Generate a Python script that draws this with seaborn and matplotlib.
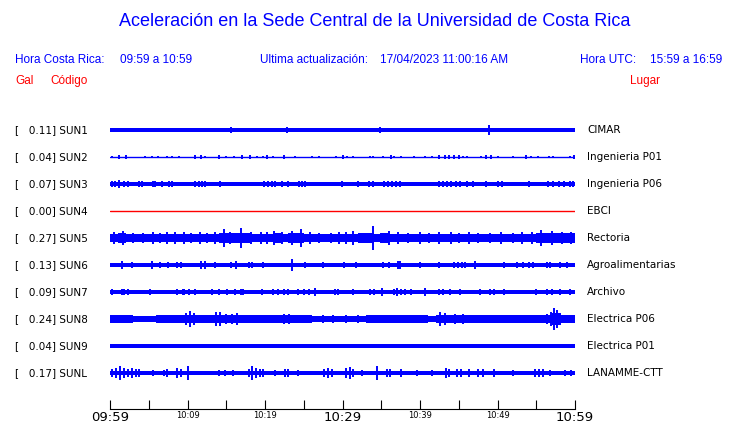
import matplotlib
matplotlib.use("Agg")
import matplotlib.pyplot as plt
import numpy as np
import seaborn as sns

BLUE = "#0000ff"
RED = "#ff0000"

# stations, places and peak acceleration (Gal)
stations = ["SUN1", "SUN2", "SUN3", "SUN4", "SUN5", "SUN6", "SUN7", "SUN8", "SUN9", "SUNL"]
places = ["CIMAR", "Ingenieria P01", "Ingenieria P06", "EBCI", "Rectoria",
          "Agroalimentarias", "Archivo", "Electrica P06", "Electrica P01", "LANAMME-CTT"]
peaks = [0.11, 0.04, 0.07, 0.00, 0.27, 0.13, 0.09, 0.24, 0.04, 0.17]

# background noise half-width (Gal); None -> per-minute envelope below
base_width = [0.036, 0.01, 0.045, 0.0, None, 0.045, 0.05, None, 0.04, 0.05]

# per-minute envelope (half-width, Gal) for the noisier stations
env_sun5 = [0.1, 0.11, 0.1, 0.095, 0.095, 0.1, 0.095, 0.095, 0.1, 0.095,
            0.095, 0.095, 0.095, 0.1, 0.11, 0.11, 0.12, 0.11, 0.1, 0.1,
            0.1, 0.11, 0.1, 0.11, 0.11, 0.1, 0.095, 0.095, 0.1, 0.095,
            0.095, 0.1, 0.11, 0.11, 0.1, 0.11, 0.1, 0.1, 0.095, 0.095,
            0.1, 0.095, 0.1, 0.1, 0.1, 0.1, 0.095, 0.095, 0.095, 0.1,
            0.095, 0.095, 0.1, 0.095, 0.1, 0.11, 0.11, 0.12, 0.12, 0.12]
env_sun8 = [0.08, 0.08, 0.08, 0.07, 0.07, 0.07, 0.085, 0.085, 0.085, 0.085,
            0.1, 0.09, 0.09, 0.09, 0.1, 0.095, 0.095, 0.08, 0.09, 0.09,
            0.09, 0.09, 0.095, 0.095, 0.085, 0.085, 0.07, 0.075, 0.075, 0.075,
            0.075, 0.075, 0.075, 0.08, 0.08, 0.08, 0.085, 0.085, 0.085, 0.085,
            0.085, 0.075, 0.1, 0.1, 0.095, 0.095, 0.095, 0.095, 0.09, 0.09,
            0.09, 0.09, 0.09, 0.08, 0.08, 0.08, 0.1, 0.14, 0.1, 0.09]

# spikes: (minute after 09:59, half amplitude in Gal)
spikes_sun1 = [(0.5, 0.045), (1.2, 0.045), (4.5, 0.05), (5.5, 0.045), (6.0, 0.055), (7.2, 0.045),
               (9.0, 0.04), (11.8, 0.045), (13.0, 0.045), (14.5, 0.05), (15.6, 0.075), (16.5, 0.045),
               (17.4, 0.045), (19.6, 0.045), (21.0, 0.045), (22.9, 0.068), (23.8, 0.05), (25.0, 0.045),
               (26.2, 0.045), (28.8, 0.045), (30.5, 0.045), (31.4, 0.04), (34.8, 0.068), (37.0, 0.045),
               (38.5, 0.05), (41.5, 0.045), (44.5, 0.045), (47.0, 0.045), (48.9, 0.11), (49.6, 0.055),
               (50.5, 0.045), (53.0, 0.05), (54.6, 0.045), (57.0, 0.05), (58.5, 0.05), (59.5, 0.05)]
spikes_sun2 = [(0.3, 0.03), (1.2, 0.045), (2.1, 0.035), (4.5, 0.025), (5.4, 0.025), (6.2, 0.03),
               (7.3, 0.025), (8.0, 0.025), (8.9, 0.025), (11.0, 0.035), (11.8, 0.035), (12.2, 0.03),
               (14.0, 0.035), (15.0, 0.025), (16.0, 0.03), (17.0, 0.035), (18.0, 0.035), (19.0, 0.025),
               (19.8, 0.03), (20.3, 0.035), (21.0, 0.03), (22.5, 0.035), (23.9, 0.03), (26.0, 0.025),
               (27.0, 0.025), (29.2, 0.03), (30.1, 0.035), (30.6, 0.03), (31.4, 0.03), (33.5, 0.03),
               (33.9, 0.03), (35.2, 0.03), (36.2, 0.035), (36.7, 0.03), (37.6, 0.025), (39.2, 0.025),
               (40.6, 0.025), (41.6, 0.03), (42.4, 0.035), (43.2, 0.035), (43.8, 0.035), (44.4, 0.04),
               (45.0, 0.035), (45.5, 0.03), (46.0, 0.03), (47.9, 0.03), (48.5, 0.035), (49.2, 0.035),
               (50.0, 0.03), (52.0, 0.025), (53.7, 0.035), (54.3, 0.03), (55.2, 0.03), (56.6, 0.03),
               (57.1, 0.03), (59.4, 0.03), (59.9, 0.035)]
spikes_sun3 = [(0.2, 0.06), (0.6, 0.065), (1.2, 0.08), (1.8, 0.065), (2.3, 0.06), (3.8, 0.065),
               (4.1, 0.065), (5.5, 0.065), (5.8, 0.06), (6.7, 0.06), (7.6, 0.065), (8.0, 0.06),
               (9.0, 0.055), (11.0, 0.065), (11.5, 0.07), (11.9, 0.075), (12.3, 0.065), (14.2, 0.06),
               (16.3, 0.055), (17.2, 0.055), (18.3, 0.055), (19.0, 0.055), (19.9, 0.065), (20.4, 0.065),
               (20.9, 0.065), (21.3, 0.06), (22.2, 0.065), (23.0, 0.06), (24.4, 0.065), (24.8, 0.06),
               (25.2, 0.065), (28.2, 0.055), (29.9, 0.06), (32.0, 0.06), (33.4, 0.065), (33.9, 0.065),
               (35.4, 0.065), (35.9, 0.065), (36.4, 0.065), (36.9, 0.065), (37.4, 0.06), (41.0, 0.055),
               (42.5, 0.065), (43.0, 0.07), (43.5, 0.065), (44.0, 0.06), (44.6, 0.065), (45.2, 0.06),
               (46.1, 0.065), (46.8, 0.065), (47.5, 0.055), (48.5, 0.06), (50.0, 0.065), (50.6, 0.06),
               (52.9, 0.055), (54.1, 0.06), (54.6, 0.055), (56.5, 0.065), (57.2, 0.065), (57.9, 0.06),
               (58.6, 0.065), (59.3, 0.065), (59.8, 0.06)]
spikes_sun4 = []
spikes_sun5 = [(0.5, 0.13), (1.7, 0.16), (3.0, 0.12), (4.2, 0.12), (5.5, 0.13), (6.5, 0.12),
               (7.4, 0.13), (8.4, 0.14), (9.5, 0.13), (10.5, 0.12), (11.6, 0.13), (12.5, 0.12),
               (13.5, 0.13), (14.7, 0.2), (15.5, 0.14), (16.9, 0.23), (18.2, 0.14), (19.5, 0.13),
               (20.3, 0.14), (21.2, 0.17), (22.2, 0.13), (23.5, 0.15), (24.7, 0.2), (25.8, 0.13),
               (27.0, 0.12), (28.5, 0.12), (29.6, 0.14), (30.5, 0.13), (31.4, 0.15), (32.3, 0.12),
               (33.9, 0.27), (35.0, 0.12), (36.0, 0.15), (37.2, 0.13), (38.5, 0.12), (40.0, 0.13),
               (41.2, 0.12), (42.5, 0.13), (44.0, 0.14), (45.0, 0.12), (46.3, 0.13), (47.5, 0.12),
               (49.0, 0.12), (50.5, 0.13), (52.0, 0.12), (53.2, 0.13), (54.5, 0.14), (55.6, 0.18),
               (57.0, 0.16), (58.3, 0.13), (59.5, 0.13)]
spikes_sun6 = [(1.5, 0.09), (2.9, 0.06), (5.4, 0.1), (6.5, 0.06), (7.5, 0.06), (8.7, 0.07),
               (9.2, 0.065), (11.8, 0.09), (12.2, 0.1), (13.5, 0.06), (15.6, 0.06), (16.3, 0.08),
               (17.9, 0.07), (18.3, 0.065), (19.8, 0.06), (23.5, 0.135), (25.1, 0.06), (27.5, 0.06),
               (30.2, 0.06), (31.8, 0.06), (35.2, 0.06), (36.0, 0.06), (37.2, 0.08), (37.4, 0.085),
               (40.0, 0.06), (42.4, 0.06), (44.4, 0.065), (44.9, 0.07), (45.4, 0.065), (45.8, 0.06),
               (47.1, 0.08), (50.9, 0.06), (52.5, 0.06), (53.3, 0.06), (54.0, 0.06), (54.6, 0.06),
               (56.4, 0.07), (56.8, 0.065), (58.1, 0.06), (59.0, 0.06)]
spikes_sun7 = [(0.2, 0.065), (1.5, 0.07), (1.8, 0.07), (2.3, 0.065), (5.2, 0.065), (8.7, 0.065),
               (9.4, 0.07), (9.6, 0.07), (10.2, 0.065), (11.0, 0.065), (13.2, 0.065), (14.0, 0.065),
               (15.1, 0.065), (16.1, 0.065), (16.9, 0.065), (17.2, 0.065), (19.6, 0.065), (21.0, 0.065),
               (21.7, 0.065), (22.4, 0.065), (23.0, 0.065), (24.3, 0.065), (25.0, 0.065), (25.7, 0.065),
               (26.5, 0.09), (29.0, 0.065), (29.4, 0.065), (31.4, 0.065), (33.5, 0.07), (34.0, 0.07),
               (35.1, 0.085), (36.6, 0.07), (37.0, 0.08), (37.5, 0.075), (38.0, 0.07), (38.9, 0.065),
               (40.7, 0.09), (42.4, 0.065), (43.0, 0.065), (43.9, 0.065), (45.2, 0.065), (47.7, 0.065),
               (49.0, 0.065), (49.5, 0.065), (50.9, 0.065), (55.0, 0.065), (56.4, 0.07), (57.0, 0.07),
               (58.1, 0.065), (59.4, 0.065)]
spikes_sun8 = [(0.3, 0.09), (1.2, 0.09), (2.0, 0.08), (2.6, 0.09), (6.0, 0.09), (7.2, 0.09),
               (8.3, 0.09), (9.0, 0.085), (9.8, 0.14), (10.3, 0.18), (10.8, 0.14), (12.0, 0.1),
               (12.8, 0.1), (13.7, 0.15), (14.2, 0.16), (15.0, 0.11), (15.8, 0.12), (16.4, 0.14),
               (18.5, 0.1), (19.5, 0.1), (20.5, 0.1), (22.4, 0.11), (23.1, 0.12), (24.6, 0.1),
               (27.5, 0.08), (28.8, 0.08), (30.4, 0.08), (32.0, 0.08), (33.5, 0.09), (35.0, 0.085),
               (37.5, 0.09), (39.5, 0.09), (42.6, 0.15), (43.2, 0.13), (44.5, 0.11), (45.6, 0.11),
               (46.8, 0.1), (48.7, 0.1), (50.2, 0.1), (51.6, 0.09), (53.5, 0.09), (55.0, 0.085),
               (56.4, 0.12), (56.9, 0.17), (57.3, 0.24), (57.7, 0.2), (58.1, 0.14), (59.0, 0.09)]
spikes_sun9 = [(0.5, 0.045), (5.5, 0.045), (12.5, 0.045), (18.0, 0.045), (25.5, 0.045), (33.5, 0.05),
               (38.0, 0.045), (44.0, 0.05), (50.0, 0.045), (57.0, 0.045)]
spikes_sunl = [(0.3, 0.1), (0.8, 0.11), (1.3, 0.15), (1.8, 0.11), (2.3, 0.1), (2.8, 0.12),
               (3.3, 0.1), (3.8, 0.08), (5.5, 0.07), (7.0, 0.075), (7.4, 0.08), (8.7, 0.11),
               (9.1, 0.1), (10.1, 0.17), (14.0, 0.07), (14.8, 0.07), (15.9, 0.07), (17.9, 0.1),
               (18.3, 0.16), (18.8, 0.11), (19.3, 0.09), (19.8, 0.08), (21.3, 0.07), (22.6, 0.1),
               (23.0, 0.1), (24.3, 0.07), (27.6, 0.09), (28.1, 0.11), (28.6, 0.1), (30.5, 0.11),
               (31.0, 0.13), (31.4, 0.1), (32.5, 0.07), (34.5, 0.16), (35.8, 0.09), (36.1, 0.08),
               (37.5, 0.08), (39.6, 0.07), (41.5, 0.07), (43.3, 0.12), (43.7, 0.1), (44.8, 0.1),
               (45.3, 0.09), (46.3, 0.08), (47.5, 0.08), (48.1, 0.08), (49.6, 0.08), (52.0, 0.07),
               (54.8, 0.1), (55.3, 0.09), (55.9, 0.08), (56.8, 0.07), (58.7, 0.07), (59.5, 0.07)]

envelopes = {"SUN5": env_sun5, "SUN8": env_sun8}
spikes = [spikes_sun1, spikes_sun2, spikes_sun3, spikes_sun4, spikes_sun5,
          spikes_sun6, spikes_sun7, spikes_sun8, spikes_sun9, spikes_sunl]

tick_minutes = list(range(0, 61, 5))
tick_labels = ["09:59", "", "10:09", "", "10:19", "", "10:29", "", "10:39", "", "10:49", "", "10:59"]
big_labels = ["09:59", "10:29", "10:59"]

sns.set_style("white")
plt.rcParams["font.family"] = ["DejaVu Sans"]

W, H = 740, 423
fig = plt.figure(figsize=(W / 100, H / 100), dpi=100)
ax = fig.add_axes([110 / W, 14 / H, 465 / W, (409 - 112) / H])

ROW = 27 / 44  # row spacing in Gal (about 44 px per Gal)
for i, name in enumerate(stations):
    y0 = -i * ROW
    if name in envelopes:
        env = np.array(envelopes[name] + envelopes[name][-1:])
        ax.fill_between(np.arange(len(env)), y0 - env, y0 + env, step="post",
                        color=BLUE, lw=0)
    elif base_width[i] > 0:
        b = base_width[i]
        ax.fill_between([0, 60], [y0 - b] * 2, [y0 + b] * 2, color=BLUE, lw=0)
    sns.lineplot(x=[0, 60], y=[y0, y0], ax=ax, color=RED if peaks[i] == 0 else BLUE,
                 lw=1.0, errorbar=None)
    if spikes[i]:
        t = np.array([s[0] for s in spikes[i]])
        a = np.array([s[1] for s in spikes[i]])
        ax.vlines(t, y0 - a, y0 + a, color=BLUE, lw=1.4)

    ax.annotate(f"[   {peaks[i]:.2f}] {name}", xy=(15 / W, y0),
                xycoords=("figure fraction", "data"), va="center", ha="left",
                fontsize=7.5, color="black")
    ax.annotate(places[i], xy=(587 / W, y0), xycoords=("figure fraction", "data"),
                va="center", ha="left", fontsize=7.5, color="black")

ax.set_xlim(0, 60)
ax.set_ylim(-9 * ROW - 36 / 44, 18 / 44)
ax.set_yticks([])
ax.set_xticks(tick_minutes)
ax.set_xticklabels(tick_labels)
for lab in ax.get_xticklabels():
    lab.set_fontsize(9.5 if lab.get_text() in big_labels else 6)
ax.tick_params(axis="x", direction="in", length=6.5, width=0.8, pad=1.5,
               colors="black", bottom=True)
sns.despine(ax=ax, left=True, top=True, right=True)
ax.spines["bottom"].set_color("black")
ax.spines["bottom"].set_linewidth(0.8)

# header
hdr = dict(family="Liberation Sans", va="center", ha="left")
fig.text(375 / W, 1 - 22 / H, "Aceleración en la Sede Central de la Universidad de Costa Rica",
         color=BLUE, fontsize=13, family="Liberation Sans", va="center", ha="center")
fig.text(15 / W, 1 - 60 / H, "Hora Costa Rica:", color=BLUE, fontsize=8.5, **hdr)
fig.text(120 / W, 1 - 60 / H, "09:59 a 10:59", color=BLUE, fontsize=8.5, **hdr)
fig.text(260 / W, 1 - 60 / H, "Ultima actualización:", color=BLUE, fontsize=8.5, **hdr)
fig.text(380 / W, 1 - 60 / H, "17/04/2023 11:00:16 AM", color=BLUE, fontsize=8.5, **hdr)
fig.text(580 / W, 1 - 60 / H, "Hora UTC:", color=BLUE, fontsize=8.5, **hdr)
fig.text(650 / W, 1 - 60 / H, "15:59 a 16:59", color=BLUE, fontsize=8.5, **hdr)
fig.text(15 / W, 1 - 81 / H, "Gal", color=RED, fontsize=8.5, **hdr)
fig.text(50 / W, 1 - 81 / H, "Código", color=RED, fontsize=8.5, **hdr)
fig.text(630 / W, 1 - 81 / H, "Lugar", color=RED, fontsize=8.5, **hdr)

fig.savefig("out.png", dpi=100, facecolor="white")
